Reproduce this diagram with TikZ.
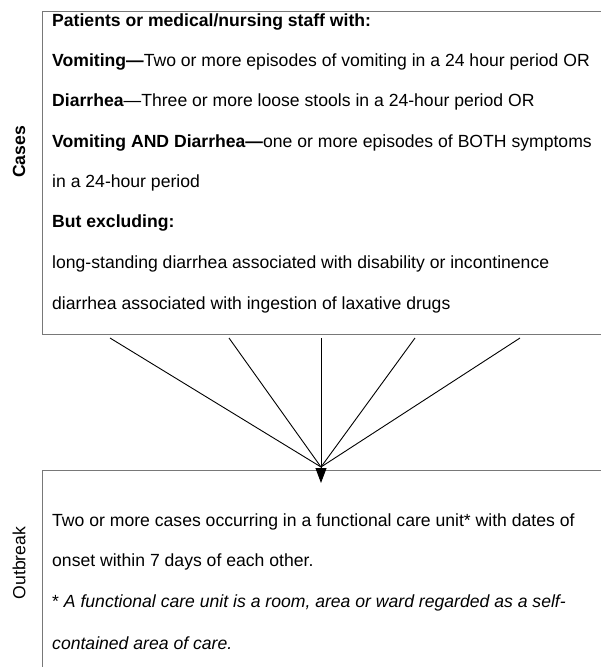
\documentclass[tikz,border=0pt]{standalone}
\usepackage{fontspec}
\setmainfont{Liberation Sans}
\usetikzlibrary{arrows.meta,positioning}
\definecolor{boxgray}{RGB}{120,120,120}
\tikzset{
  framebox/.style={draw=boxgray, line width=1.2pt, anchor=north west, inner sep=0pt},
  txt/.style={anchor=west, inner sep=0pt},
  sidelabel/.style={rotate=90, inner sep=0pt},
  link/.style={line width=0.9pt}
}
\begin{document}
\begin{tikzpicture}[x=1pt,y=-1pt,font=\fontsize{17.6}{20}\selectfont]
\clip (0,0) rectangle (601,667);
% boxes
\node[framebox, minimum width=600pt, minimum height=323pt] (casesbox) at (42,11) {};
\node[framebox, minimum width=600pt, minimum height=250pt] (outbreakbox) at (42,470) {};
% side labels
\node[sidelabel, font=\fontsize{17.6}{20}\selectfont\bfseries] (cases) at (19,152) {Cases};
\node[sidelabel] (outbreak) at (19,563) {Outbreak};
% case definition
\node[txt] (l1) at (52,22) {\textbf{Patients or medical/nursing staff with:}};
\node[txt] (l2) at (52,62) {\textbf{Vomiting---}Two or more episodes of vomiting in a 24 hour period OR};
\node[txt] (l3) at (52,102) {\textbf{Diarrhea}---Three or more loose stools in a 24-hour period OR};
\node[txt] (l4) at (52,143) {\textbf{Vomiting AND Diarrhea---}one or more episodes of BOTH symptoms};
\node[txt] (l5) at (52,183) {in a 24-hour period};
\node[txt] (l6) at (52,223) {\textbf{But excluding:}};
\node[txt] (l7) at (52,264) {long-standing diarrhea associated with disability or incontinence};
\node[txt] (l8) at (52,305) {diarrhea associated with ingestion of laxative drugs};
% outbreak definition
\node[txt] (o1) at (52,522) {Two or more cases occurring in a functional care unit* with dates of};
\node[txt] (o2) at (52,562) {onset within 7 days of each other.};
\node[txt] (o3) at (52,603) {* \textit{A functional care unit is a room, area or ward regarded as a self-}};
\node[txt] (o4) at (52,643) {\textit{contained area of care.}};
% connectors
\coordinate (s1) at (110,338);
\coordinate (s2) at (229,338);
\coordinate (s3) at (321,338);
\coordinate (s4) at (415,338);
\coordinate (s5) at (520,338);
\coordinate (meet) at (321,467);
\coordinate (tip) at (321,483);
\foreach \s in {s1,s2,s4,s5}
  \draw[link] (\s) -- (meet);
\draw[link,-{Triangle[length=15pt,width=11pt]}] (s3) -- (tip);
\end{tikzpicture}
\end{document}
